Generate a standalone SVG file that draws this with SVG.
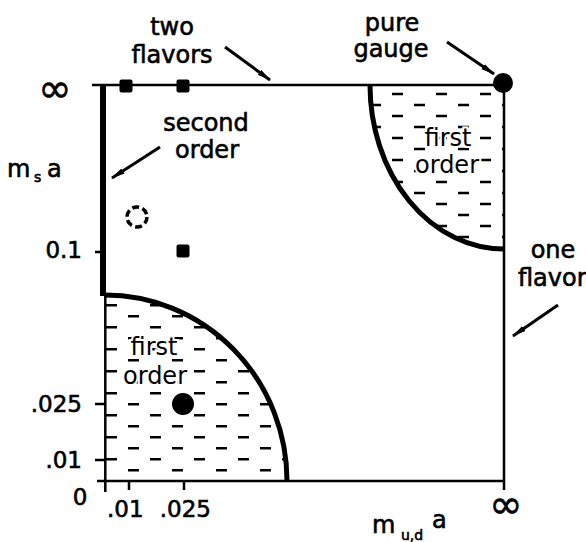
<svg xmlns="http://www.w3.org/2000/svg" width="586" height="542" viewBox="0 0 586 542">
<style>
text{font-family:"DejaVu Sans","Liberation Sans",sans-serif;fill:#000;stroke:#000;stroke-width:0.6}
.lbl{font-size:24px}
.num{font-size:23px}
.sub{font-size:14px}
.inf{font-size:40px;text-anchor:middle}
.mid{text-anchor:middle}
.end{text-anchor:end}
.ax{stroke:#000;stroke-width:2.5;fill:none}
.bd{stroke:#000;stroke-width:5;fill:none}
.arr{stroke:#000;stroke-width:3;fill:none;marker-end:url(#ah)}
.knock{stroke:#fff;stroke-width:4;paint-order:stroke}
</style>
<defs>
<marker id="ah" viewBox="0 0 14 8" refX="13" refY="4" markerWidth="14" markerHeight="8" markerUnits="userSpaceOnUse" orient="auto">
<path d="M0,1 L14,4 L0,7 z" fill="#000"/>
</marker>
<pattern id="dashLL" patternUnits="userSpaceOnUse" x="106" y="377" width="44" height="22">
<path d="M0,16.3 H11 M22,5.3 H33" stroke="#000" stroke-width="2.6"/>
</pattern>
<pattern id="dashTR" patternUnits="userSpaceOnUse" x="392" y="88" width="44" height="22">
<path d="M0,6 H11 M22,17 H33" stroke="#000" stroke-width="2.6"/>
</pattern>
</defs>

<g id="frame">
<path class="ax" d="M92,85 H504 V490"/>
<path class="ax" d="M97,481 H504"/>
<path class="ax" d="M105.3,295 V492"/>
<path stroke="#000" stroke-width="6" d="M103,84 V296"/>
<path class="ax" d="M95,252 H105 M95,404 H105 M95,460 H105 M129,481 V490 M184,481 V490"/>
</g>

<g id="region-lower-left">
<path d="M105,295 A182,186 0 0 1 287,481 H105 Z" fill="url(#dashLL)"/>
<path class="bd" d="M105,295 A182,186 0 0 1 287,481"/>
<text class="lbl mid knock" x="154" y="355">first</text>
<text class="lbl mid knock" x="155" y="384">order</text>
</g>

<g id="region-top-right">
<path d="M370,85 A134,164 0 0 0 504,249 V85 Z" fill="url(#dashTR)"/>
<path class="bd" d="M370,85 A134,164 0 0 0 504,249"/>
<text class="lbl mid knock" x="448" y="146">first</text>
<text class="lbl mid knock" x="447" y="173">order</text>
</g>

<g id="points">
<rect x="119.5" y="79.5" width="13" height="13" rx="2"/>
<rect x="176.5" y="79.5" width="13" height="13" rx="2"/>
<rect x="176.5" y="244.5" width="13" height="13" rx="2"/>
<circle cx="183" cy="404" r="11"/>
<circle cx="503" cy="83" r="10"/>
<circle cx="137" cy="217" r="10" fill="none" stroke="#000" stroke-width="3.5" stroke-dasharray="7 3.5"/>
</g>

<g id="connectors">
<path class="arr" d="M225,47 L270,80"/>
<path class="arr" d="M160,147 L112,178"/>
<path class="arr" d="M447,42 L494,74"/>
<path class="arr" d="M558,305 L513,336"/>
</g>

<g id="labels">
<text class="lbl mid" x="172" y="35">two</text>
<text class="lbl mid" x="172" y="63">flavors</text>
<text class="lbl mid" x="206" y="131">second</text>
<text class="lbl mid" x="207" y="158">order</text>
<text class="lbl mid" x="392" y="31">pure</text>
<text class="lbl mid" x="391" y="57">gauge</text>
<text class="lbl mid" x="553" y="258">one</text>
<text class="lbl" x="518" y="286">flavor</text>
<text class="inf" x="55" y="102">∞</text>
<text class="inf" x="506" y="518">∞</text>
<text class="lbl" x="7" y="177">m</text>
<text class="sub" x="34" y="182">s</text>
<text class="lbl" x="47" y="177">a</text>
<text class="lbl" x="372" y="533">m</text>
<text class="sub" x="401" y="540">u,d</text>
<text class="lbl" x="432" y="528">a</text>
<text class="num end" x="82" y="258">0.1</text>
<text class="num end" x="82" y="412">.025</text>
<text class="num end" x="82" y="468">.01</text>
<text class="num mid" x="80" y="505">0</text>
<text class="num" x="107" y="517">.01</text>
<text class="num end" x="211" y="517">.025</text>
</g>
</svg>
